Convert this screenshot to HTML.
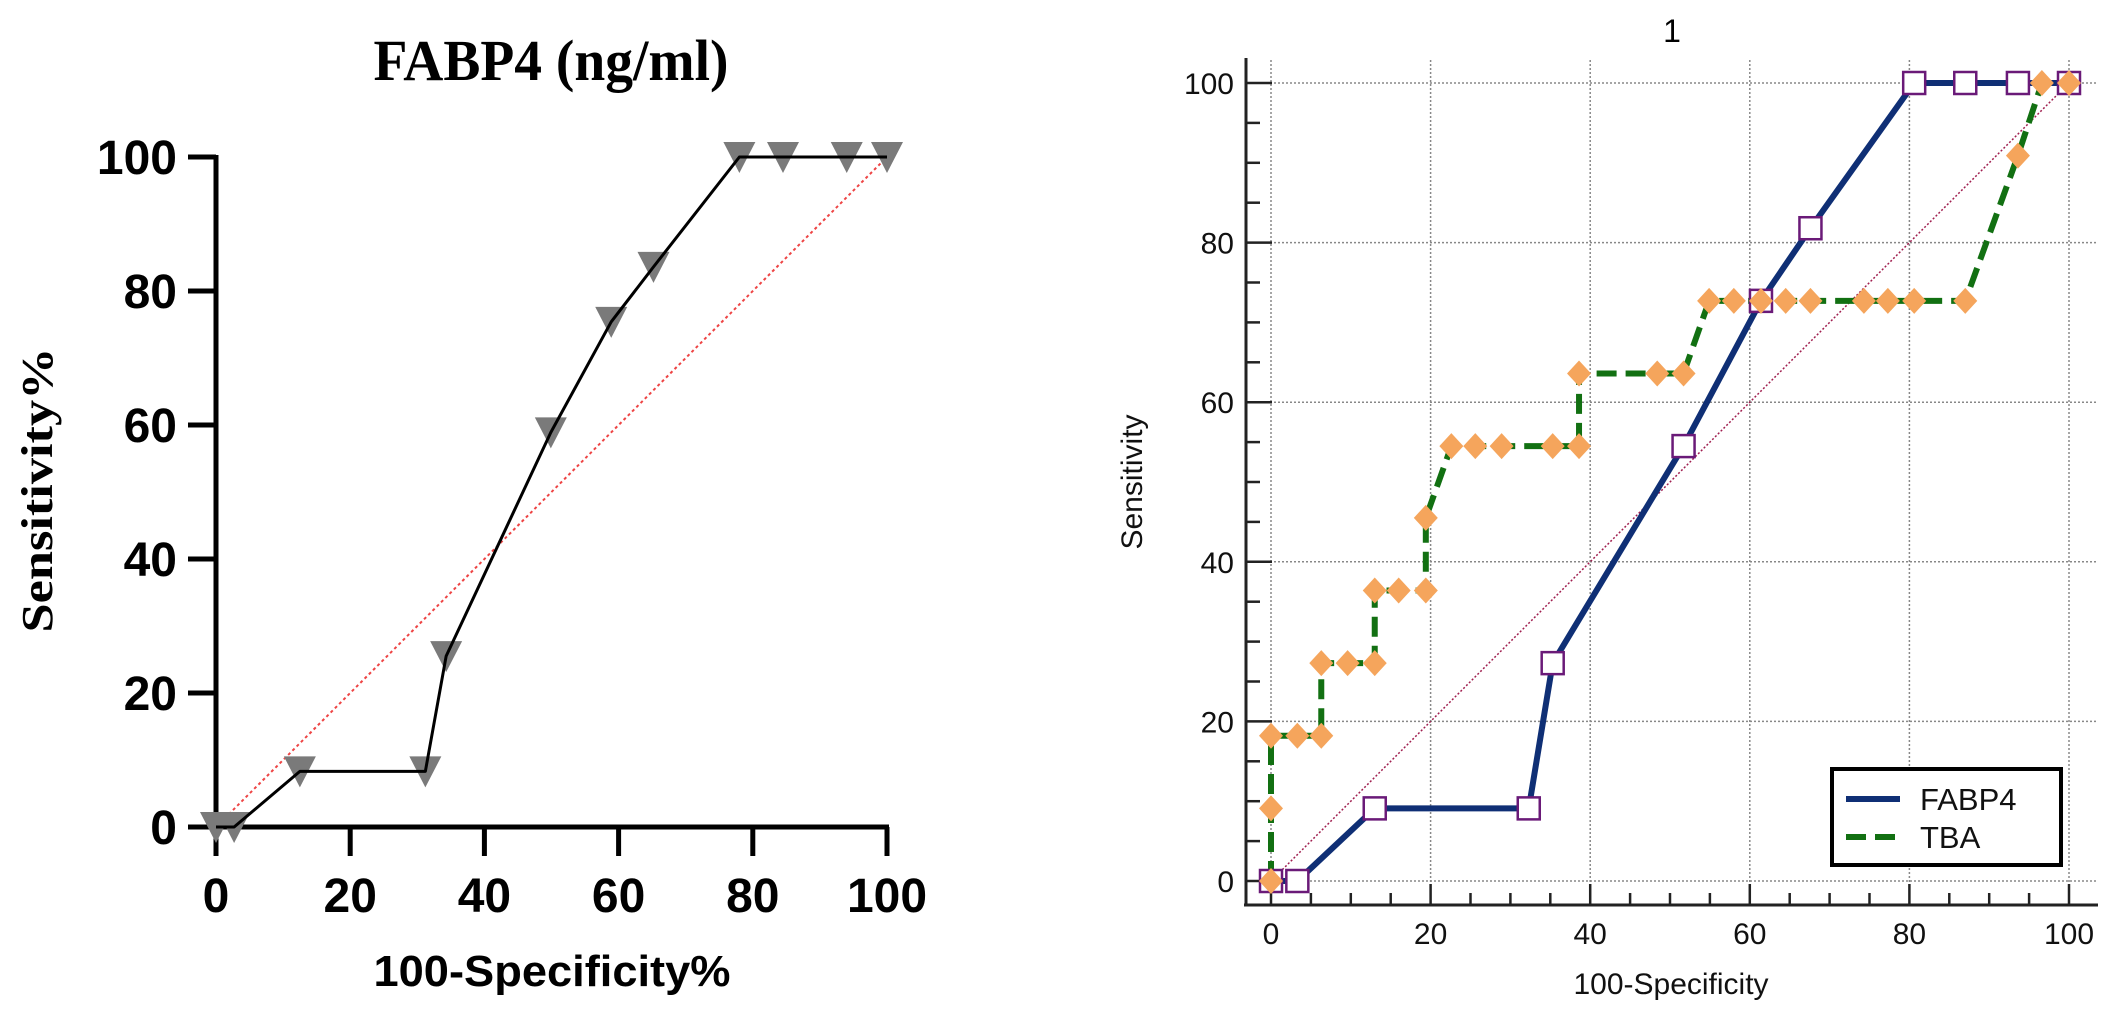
<!DOCTYPE html>
<html><head><meta charset="utf-8"><style>
html,body{margin:0;padding:0;background:#fff;}
svg{display:block;}
</style></head><body>
<svg id="c" width="2124" height="1020" viewBox="0 0 2124 1020" xmlns="http://www.w3.org/2000/svg">
<g id="left"></g>
<g id="right"></g>
</svg>
<script>
// Left chart data
const leftX = [0, 2.7, 12.5, 31.2, 34.3, 49.9, 58.9, 65.2, 78, 84.5, 94, 100];
const leftY = [0, 0, 8.3, 8.3, 25.5, 58.9, 75.4, 83.6, 100, 100, 100, 100];
const leftTicks = [0, 20, 40, 60, 80, 100];
// Right chart data
const fabpX = [0, 3.3, 13.0, 32.3, 35.3, 51.7, 61.4, 67.6, 80.6, 87, 93.6, 100];
const fabpY = [0, 0, 9.1, 9.1, 27.3, 54.5, 72.7, 81.8, 100, 100, 100, 100];
const tbaX = [0, 0, 0, 3.3, 6.3, 6.3, 9.6, 13, 13, 16, 19.4, 19.4, 22.6, 25.6, 28.9, 35.3, 38.6, 38.6, 48.4, 51.7, 54.9, 58, 61.4, 64.5, 67.6, 74.3, 77.3, 80.6, 87, 93.6, 96.6, 100];
const tbaY = [0, 9.1, 18.2, 18.2, 18.2, 27.3, 27.3, 27.3, 36.4, 36.4, 36.4, 45.5, 54.5, 54.5, 54.5, 54.5, 54.5, 63.6, 63.6, 63.6, 72.7, 72.7, 72.7, 72.7, 72.7, 72.7, 72.7, 72.7, 72.7, 90.9, 100, 100];
const rightTicks = [0, 20, 40, 60, 80, 100];

const NS = "http://www.w3.org/2000/svg";
function mk(parent, tag, attrs, text){
  const e = document.createElementNS(NS, tag);
  for (const k in attrs) e.setAttribute(k, attrs[k]);
  if (text !== undefined) e.textContent = text;
  parent.appendChild(e);
  return e;
}

// ---------- Left chart ----------
const L = document.getElementById('left');
const lx = v => 216 + v * 6.71;
const ly = v => 827 - v * 6.70;

let t = mk(L, 'text', {x: 551, y: 80, 'text-anchor': 'middle', 'font-family': '"Liberation Serif", serif', 'font-weight': 'bold', 'font-size': 58, textLength: 355, lengthAdjust: 'spacingAndGlyphs'}, 'FABP4 (ng/ml)');



// diagonal reference
let d = mk(L, 'line', {x1: lx(0), y1: ly(0), x2: lx(100), y2: ly(100), stroke: '#ee4444', 'stroke-width': 2, 'stroke-dasharray': '3 3'});



// axes
let ya = mk(L, 'line', {x1: 216, y1: ly(100) - 2, x2: 216, y2: 856, stroke: '#000', 'stroke-width': 5});


let xa = mk(L, 'line', {x1: 188, y1: 827, x2: lx(100) + 2, y2: 827, stroke: '#000', 'stroke-width': 5});



leftTicks.forEach(v => {
  let tk = mk(L, 'line', {x1: 188, y1: ly(v), x2: 216, y2: ly(v), stroke: '#000', 'stroke-width': 5});
  
  
  let tl = mk(L, 'text', {x: 177, y: ly(v) + 17, 'text-anchor': 'end', 'font-family': '"Liberation Sans", sans-serif', 'font-weight': 'bold', 'font-size': 48}, String(v));
  
  
  let tx = mk(L, 'line', {x1: lx(v), y1: 827, x2: lx(v), y2: 856, stroke: '#000', 'stroke-width': 5});
  
  
  let xl = mk(L, 'text', {x: lx(v), y: 912, 'text-anchor': 'middle', 'font-family': '"Liberation Sans", sans-serif', 'font-weight': 'bold', 'font-size': 48}, String(v));
  
  
});

let xt = mk(L, 'text', {x: 552, y: 986, 'text-anchor': 'middle', 'font-family': '"Liberation Sans", sans-serif', 'font-weight': 'bold', 'font-size': 44, textLength: 357, lengthAdjust: 'spacingAndGlyphs'}, '100-Specificity%');


let yt = mk(L, 'text', {x: 0, y: 0, 'text-anchor': 'middle', transform: 'translate(52,490) rotate(-90)', 'font-family': '"Liberation Serif", serif', 'font-weight': 'bold', 'font-size': 44, textLength: 285, lengthAdjust: 'spacingAndGlyphs'}, 'Sensitivity%');



// markers then line
leftX.forEach((v, i) => {
  const cx = lx(v), cy = ly(leftY[i]);
  let m = mk(L, 'polygon', {points: `${cx-16},${cy-15} ${cx+16},${cy-15} ${cx},${cy+16}`, fill: '#7a7a7a'});
  
  
});
let lp = mk(L, 'polyline', {points: leftX.map((v, i) => lx(v) + ',' + ly(leftY[i])).join(' '), fill: 'none', stroke: '#000', 'stroke-width': 3, 'stroke-linejoin': 'round'});



// ---------- Right chart ----------
const R = document.getElementById('right');
const rx = v => 1271 + v * 7.98;
const ry = v => 881 - v * 7.98;

let r1 = mk(R, 'text', {x: 1672, y: 42, 'text-anchor': 'middle', 'font-family': '"Liberation Sans", sans-serif', 'font-size': 32}, '1');



// grid
rightTicks.forEach(v => {
  let g = mk(R, 'line', {x1: rx(v), y1: 60, x2: rx(v), y2: 904, stroke: '#888', 'stroke-width': 1.5, 'stroke-dasharray': '2 2'});
  
  
  let h = mk(R, 'line', {x1: 1246, y1: ry(v), x2: 2097, y2: ry(v), stroke: '#888', 'stroke-width': 1.5, 'stroke-dasharray': '2 2'});
  
  
});

// axes
let rya = mk(R, 'line', {x1: 1246, y1: 58, x2: 1246, y2: 906, stroke: '#222', 'stroke-width': 3});


let rxa = mk(R, 'line', {x1: 1244, y1: 905, x2: 2098, y2: 905, stroke: '#222', 'stroke-width': 3});



for (let v = 0; v <= 100; v += 5) {
  const major = v % 20 === 0;
  let a = mk(R, 'line', {x1: 1246, y1: ry(v), x2: major ? 1272 : 1260, y2: ry(v), stroke: '#222', 'stroke-width': 2.5});
  
  
  let b = mk(R, 'line', {x1: rx(v), y1: 905, x2: rx(v), y2: major ? 884 : 893, stroke: '#222', 'stroke-width': 2.5});
  
  
}
rightTicks.forEach(v => {
  let a = mk(R, 'text', {x: 1234, y: ry(v) + 11, 'text-anchor': 'end', 'font-family': '"Liberation Sans", sans-serif', 'font-size': 30, fill: '#111'}, String(v));
  
  
  let b = mk(R, 'text', {x: rx(v), y: 944, 'text-anchor': 'middle', 'font-family': '"Liberation Sans", sans-serif', 'font-size': 30, fill: '#111'}, String(v));
  
  
});
let rxt = mk(R, 'text', {x: 1671, y: 994, 'text-anchor': 'middle', 'font-family': '"Liberation Sans", sans-serif', 'font-size': 30, fill: '#111'}, '100-Specificity');


let ryt = mk(R, 'text', {x: 0, y: 0, 'text-anchor': 'middle', transform: 'translate(1142,482) rotate(-90)', 'font-family': '"Liberation Sans", sans-serif', 'font-size': 30, fill: '#111'}, 'Sensitivity');



let rd = mk(R, 'line', {x1: rx(0), y1: ry(0), x2: rx(100), y2: ry(100), stroke: '#a02050', 'stroke-width': 1.5, 'stroke-dasharray': '2 2'});



let tl = mk(R, 'polyline', {points: tbaX.map((v, i) => rx(v) + ',' + ry(tbaY[i])).join(' '), fill: 'none', stroke: '#127012', 'stroke-width': 6, 'stroke-dasharray': '20 9'});


let fl = mk(R, 'polyline', {points: fabpX.map((v, i) => rx(v) + ',' + ry(fabpY[i])).join(' '), fill: 'none', stroke: '#0f2f75', 'stroke-width': 6, 'stroke-linejoin': 'round'});



fabpX.forEach((v, i) => {
  let s = mk(R, 'rect', {x: rx(v) - 11, y: ry(fabpY[i]) - 11, width: 22, height: 22, fill: '#fff', stroke: '#6a1a78', 'stroke-width': 2.5});
  
  
});
tbaX.forEach((v, i) => {
  const cx = rx(v), cy = ry(tbaY[i]);
  let m = mk(R, 'polygon', {points: `${cx},${cy-13} ${cx+12},${cy} ${cx},${cy+13} ${cx-12},${cy}`, fill: '#f5a55c'});
  
  
});

// legend
const lg = mk(R, 'g', {});


let box = mk(lg, 'rect', {x: 1832, y: 769, width: 229, height: 96, fill: '#fff', stroke: '#000', 'stroke-width': 4});


let l1 = mk(lg, 'line', {x1: 1846, y1: 799, x2: 1900, y2: 799, stroke: '#0f2f75', 'stroke-width': 6});


let t1 = mk(lg, 'text', {x: 1920, y: 810, 'font-family': '"Liberation Sans", sans-serif', 'font-size': 31, fill: '#111'}, 'FABP4');


let l2 = mk(lg, 'line', {x1: 1846, y1: 837, x2: 1900, y2: 837, stroke: '#127012', 'stroke-width': 6, 'stroke-dasharray': '20 9'});


let t2 = mk(lg, 'text', {x: 1920, y: 848, 'font-family': '"Liberation Sans", sans-serif', 'font-size': 31, fill: '#111'}, 'TBA');


</script>
</body></html>
